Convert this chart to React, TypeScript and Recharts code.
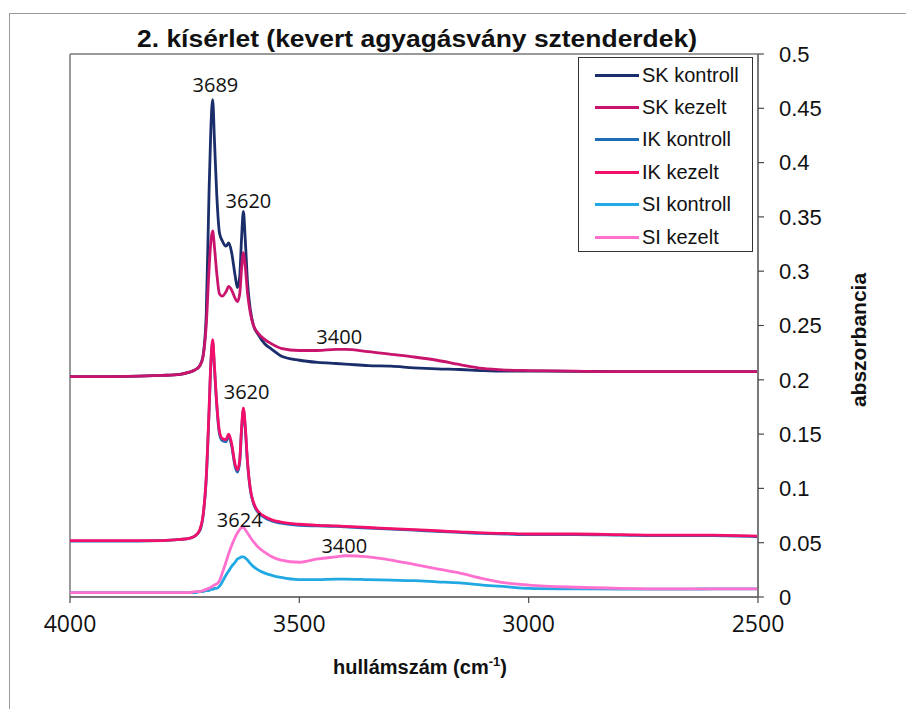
import React from 'react';
import { LineChart, Line, XAxis, YAxis, ReferenceLine, ReferenceDot } from 'recharts';

const wavenumbers = [4000, 3900, 3800, 3760, 3740, 3728, 3717, 3710, 3703, 3697, 3693, 3689, 3685, 3680, 3674, 3668, 3660, 3654, 3648, 3640, 3635, 3630, 3626, 3622, 3618, 3613, 3607, 3600, 3590, 3575, 3560, 3540, 3500, 3460, 3420, 3400, 3350, 3300, 3250, 3200, 3150, 3100, 3050, 3000, 2900, 2800, 2700, 2600, 2500];

const skKontroll = [0.203, 0.203, 0.204, 0.205, 0.207, 0.209, 0.213, 0.222, 0.26, 0.37, 0.43, 0.458, 0.42, 0.37, 0.335, 0.328, 0.323, 0.326, 0.318, 0.296, 0.285, 0.295, 0.33, 0.355, 0.33, 0.29, 0.265, 0.25, 0.242, 0.233, 0.228, 0.222, 0.218, 0.216, 0.215, 0.2145, 0.213, 0.2125, 0.211, 0.21, 0.2095, 0.2085, 0.208, 0.208, 0.2078, 0.2075, 0.2075, 0.2075, 0.2075];
const skKezelt = [0.203, 0.203, 0.204, 0.205, 0.207, 0.209, 0.213, 0.221, 0.25, 0.30, 0.327, 0.337, 0.322, 0.298, 0.279, 0.277, 0.281, 0.286, 0.283, 0.275, 0.272, 0.279, 0.302, 0.317, 0.305, 0.28, 0.262, 0.25, 0.243, 0.237, 0.233, 0.229, 0.227, 0.227, 0.228, 0.228, 0.226, 0.2235, 0.221, 0.218, 0.214, 0.2105, 0.209, 0.2085, 0.208, 0.2075, 0.2075, 0.2075, 0.2075];
const ikKontroll = [0.0515, 0.0515, 0.052, 0.053, 0.054, 0.056, 0.061, 0.074, 0.108, 0.168, 0.213, 0.235, 0.21, 0.176, 0.15, 0.144, 0.143, 0.148, 0.14, 0.12, 0.115, 0.124, 0.153, 0.172, 0.156, 0.123, 0.099, 0.086, 0.078, 0.073, 0.07, 0.068, 0.066, 0.0655, 0.065, 0.0645, 0.0635, 0.0625, 0.0615, 0.0605, 0.0595, 0.0585, 0.058, 0.0575, 0.0575, 0.057, 0.0565, 0.0565, 0.0555];
const ikKezelt = [0.052, 0.052, 0.052, 0.053, 0.054, 0.056, 0.062, 0.075, 0.11, 0.17, 0.215, 0.237, 0.212, 0.178, 0.152, 0.146, 0.145, 0.15, 0.142, 0.122, 0.117, 0.126, 0.155, 0.174, 0.158, 0.125, 0.1, 0.087, 0.079, 0.074, 0.071, 0.069, 0.067, 0.066, 0.0655, 0.065, 0.064, 0.063, 0.062, 0.061, 0.06, 0.059, 0.0585, 0.058, 0.058, 0.0575, 0.057, 0.057, 0.056];
const siKontroll = [0.004, 0.004, 0.004, 0.004, 0.004, 0.004, 0.005, 0.005, 0.006, 0.006, 0.007, 0.007, 0.008, 0.008, 0.01, 0.014, 0.02, 0.024, 0.028, 0.032, 0.035, 0.036, 0.037, 0.037, 0.036, 0.034, 0.031, 0.028, 0.025, 0.022, 0.02, 0.018, 0.016, 0.016, 0.0165, 0.0165, 0.016, 0.0155, 0.015, 0.014, 0.013, 0.011, 0.0095, 0.008, 0.0075, 0.0072, 0.0072, 0.0074, 0.0074];
const siKezelt = [0.004, 0.004, 0.004, 0.004, 0.004, 0.005, 0.005, 0.006, 0.007, 0.008, 0.009, 0.01, 0.011, 0.012, 0.015, 0.022, 0.032, 0.04, 0.047, 0.055, 0.059, 0.062, 0.064, 0.064, 0.062, 0.059, 0.055, 0.051, 0.046, 0.041, 0.037, 0.034, 0.032, 0.035, 0.037, 0.038, 0.037, 0.034, 0.03, 0.026, 0.022, 0.017, 0.013, 0.011, 0.009, 0.008, 0.0075, 0.0075, 0.0074];

const seriesNames = ['SK kontroll', 'SK kezelt', 'IK kontroll', 'IK kezelt', 'SI kontroll', 'SI kezelt'];
const seriesValues = [skKontroll, skKezelt, ikKontroll, ikKezelt, siKontroll, siKezelt];
const seriesColors = ['#1b2e6c', '#c8146c', '#1e6cb6', '#f3106a', '#22a8e2', '#ff70cf'];

const xTicks = [4000, 3500, 3000, 2500];
const yTicks = [0, 0.05, 0.1, 0.15, 0.2, 0.25, 0.3, 0.35, 0.4, 0.45, 0.5];

const annotWn = [3683, 3611, 3413, 3615, 3630, 3402];
const annotVal = [0.472, 0.365, 0.24, 0.189, 0.071, 0.047];
const annotText = ['3689', '3620', '3400', '3620', '3624', '3400'];

const titleText = '2. kísérlet (kevert agyagásvány sztenderdek)';
const xTitle = 'hullámszám (cm';
const yTitle = 'abszorbancia';

const data = wavenumbers.map((w, i) => {
  const row: Record<string, number> = { wn: w };
  seriesNames.forEach((n, k) => { row[n] = seriesValues[k][i]; });
  return row;
});

const AnnotLabel = (props: any) => {
  const { viewBox, value } = props;
  const cx = viewBox.x + (viewBox.width || 0) / 2;
  const cy = viewBox.y + (viewBox.height || 0) / 2;
  return (
    <text x={cx} y={cy} dy="0.36em" textAnchor="middle" fontFamily="'Open Sans', sans-serif" fontSize={20} fill="#111">
      {value}
    </text>
  );
};

export default function App() {
  return (
    <div style={{ position: 'absolute', left: 0, top: 0, width: 906, height: 709, background: '#fff', overflow: 'hidden' }}>
      <div style={{ position: 'absolute', left: 9, top: 13, width: 897, height: 696, borderLeft: '1.5px solid #9a9a9a', borderTop: '1.5px solid #9a9a9a' }} />
      <div style={{ position: 'absolute', left: 0, top: 0 }}>
        <LineChart width={906} height={709} data={data} margin={{ top: 54, left: 70, right: 88, bottom: 72 }}>
          <XAxis
            dataKey="wn"
            type="number"
            domain={[2500, 4000]}
            reversed
            ticks={xTicks}
            interval={0}
            height={40}
            tickSize={6}
            tickMargin={13}
            axisLine={{ stroke: '#4a4a4a', strokeWidth: 1.5 }}
            tickLine={{ stroke: '#4a4a4a', strokeWidth: 1.2 }}
            tick={{ fontFamily: "'Open Sans', sans-serif", fontSize: 23, fill: '#111' }}
          />
          <YAxis
            orientation="right"
            type="number"
            domain={[0, 0.5]}
            ticks={yTicks}
            interval={0}
            width={60}
            tickSize={6}
            tickMargin={15}
            axisLine={{ stroke: '#7a7a7a', strokeWidth: 2 }}
            tickLine={{ stroke: '#4a4a4a', strokeWidth: 1.2 }}
            tick={{ fontFamily: "'Liberation Sans', Arial, sans-serif", fontSize: 22, fill: '#111', textAnchor: 'start' }}
          />
          <ReferenceLine x={4000} stroke="#9a9a9a" strokeWidth={2} />
          <ReferenceLine y={0.5} stroke="#9a9a9a" strokeWidth={2} />
          {seriesNames.map((n, k) => (
            <Line
              key={n}
              dataKey={n}
              type="monotone"
              stroke={seriesColors[k]}
              strokeWidth={2.8}
              dot={false}
              activeDot={false}
              isAnimationActive={false}
            />
          ))}
          {annotText.map((t, i) => (
            <ReferenceDot
              key={i}
              x={annotWn[i]}
              y={annotVal[i]}
              r={0}
              fill="none"
              stroke="none"
              label={<AnnotLabel value={t} />}
            />
          ))}
        </LineChart>
      </div>
      <svg width={906} height={709} style={{ position: 'absolute', left: 0, top: 0, pointerEvents: 'none' }}>
        <text x={417} y={47} textAnchor="middle" fontFamily="'Liberation Sans', Arial, sans-serif" fontWeight="bold" fontSize={23} fill="#111" textLength={560} lengthAdjust="spacingAndGlyphs">
          {titleText}
        </text>
        <text x={420} y={674} textAnchor="middle" fontFamily="'Liberation Sans', Arial, sans-serif" fontWeight="bold" fontSize={20} fill="#111">
          {xTitle}
          <tspan fontSize={13} dy={-8}>-1</tspan>
          <tspan dy={8}>)</tspan>
        </text>
        <text transform="translate(866,340) rotate(-90)" textAnchor="middle" fontFamily="'Liberation Sans', Arial, sans-serif" fontWeight="bold" fontSize={21} fill="#111">
          {yTitle}
        </text>
      </svg>
      <div style={{ position: 'absolute', left: 578, top: 57, width: 175, height: 195, border: '1.5px solid #333', background: '#fff', boxSizing: 'border-box' }}>
        {seriesNames.map((n, k) => (
          <div key={n} style={{ position: 'absolute', left: 16, top: 5 + k * 32.4, height: 24, display: 'flex', alignItems: 'center' }}>
            <div style={{ width: 44, height: 3, background: seriesColors[k] }} />
            <span style={{ marginLeft: 3, fontFamily: "'Liberation Sans', Arial, sans-serif", fontSize: 20, color: '#111', whiteSpace: 'nowrap' }}>{n}</span>
          </div>
        ))}
      </div>
    </div>
  );
}
